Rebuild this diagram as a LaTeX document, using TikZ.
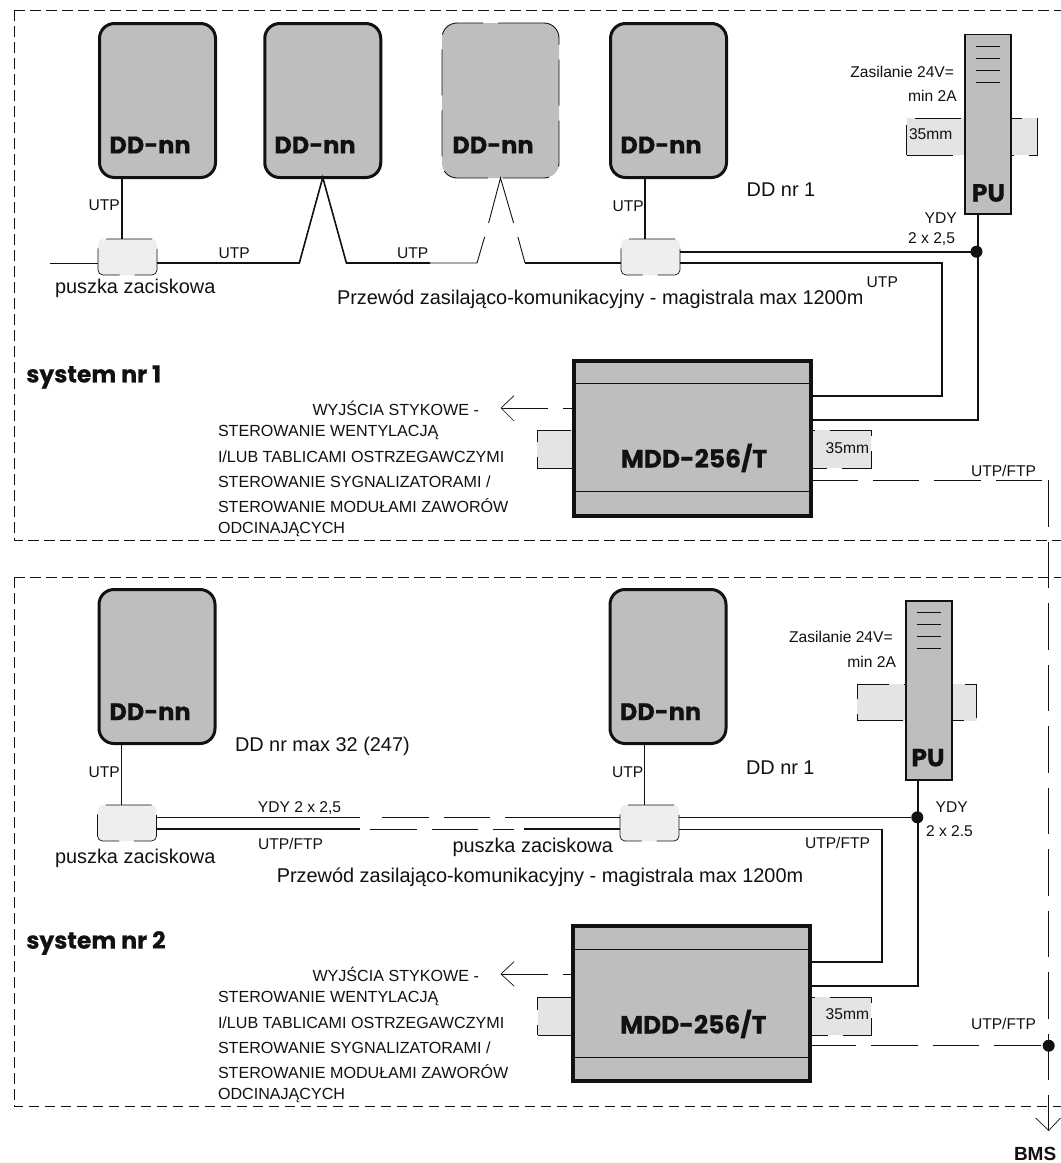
\documentclass[tikz,border=0pt]{standalone}
\usepackage{fontspec}
\setmainfont{Liberation Sans}
\newfontfamily\vag{Poppins}[BoldFeatures={FakeBold=0.5}]
\definecolor{boxgray}{HTML}{BEBEBE}
\definecolor{railgray}{HTML}{E4E4E4}
\definecolor{clampgray}{HTML}{EEEEEE}
\definecolor{ink}{HTML}{111111}
\tikzset{
  every node/.style={inner sep=0pt,outer sep=0pt,text=ink},
  ddbox/.style={draw=ink,fill=boxgray,line width=3pt,rounded corners=15pt,minimum width=116pt,minimum height=154pt},
  ddghost/.style={draw=ink,fill=boxgray,line width=0.9pt,rounded corners=15pt,minimum width=117pt,minimum height=155pt,dash pattern=on 46pt off 15pt},
  pubox/.style={draw=ink,fill=boxgray,line width=1.8pt,minimum width=46pt,minimum height=179.5pt},
  mddbox/.style={draw=ink,fill=boxgray,line width=4pt,minimum width=237pt,minimum height=155pt},
  rail/.style={draw=ink,fill=railgray,line width=0.7pt,dash pattern=on 46pt off 15pt},
  clamp/.style={draw=ink,fill=clampgray,line width=0.7pt,rounded corners=5pt,dash pattern=on 46pt off 15pt,minimum height=36pt},
  dot/.style={circle,fill=ink,minimum size=12pt},
  frame/.style={draw=ink,line width=0.8pt,dash pattern=on 10.5pt off 5.5pt},
  wire/.style={draw=ink,line width=1.6pt},
  thinwire/.style={draw=ink,line width=0.9pt},
  longdash/.style={draw=ink,line width=0.9pt,dash pattern=on 46.5pt off 15pt},
  small/.style={font=\fontsize{15.6}{18}\selectfont},
  big/.style={font=\fontsize{19.9}{22}\selectfont},
  caps/.style={font=\fontsize{16.1}{18}\selectfont},
  ddtext/.style={font=\vag\bfseries\fontsize{24}{26}\selectfont},
  putext/.style={font=\vag\bfseries\fontsize{25}{26}\selectfont},
  mddtext/.style={font=\vag\bfseries\fontsize{25}{28}\selectfont},
  systext/.style={font=\vag\bfseries\fontsize{23.5}{26}\selectfont},
}
\begin{document}
\begin{tikzpicture}[x=1pt,y=-1pt]
\useasboundingbox (0,0) rectangle (1061,1163);
\fill[white] (0,0) rectangle (1061,1163);
% frames
\coordinate (fa1) at (1061,10); \coordinate (fa2) at (14.3,10); \coordinate (fa3) at (14.3,540); \coordinate (fa4) at (1061,540);
\coordinate (fb1) at (1061,577); \coordinate (fb2) at (14.3,577); \coordinate (fb3) at (14.3,1106.5); \coordinate (fb4) at (1061,1106.5);
\draw[frame] (fa2) -- (fa1);
\draw[frame] (fa2) -- (fa3) -- (fa4);
\draw[frame] (fb2) -- (fb1);
\draw[frame] (fb2) -- (fb3) -- (fb4);

% ---------- system 1 ----------
\node[rail,minimum width=130.6pt,minimum height=37pt] (railpa) at (972,136.5) {};
\node[rail,minimum width=333.5pt,minimum height=38pt] (railma) at (704.2,449) {};
\node[ddbox] (dda1) at (157.5,100.5) {};
\node[ddbox] (dda2) at (322.75,100.5) {};
\node[ddghost] (dda3) at (500.5,100.5) {};
\node[ddbox] (dda4) at (668.5,100.5) {};
\node[pubox] (pua) at (988.3,124.3) {};
\node[mddbox] (mdda) at (692.5,438.3) {};
\node[clamp,minimum width=59pt] (cla1) at (127.5,257) {};
\node[clamp,minimum width=59pt] (cla2) at (650.5,257) {};
\node[dot] (dota) at (976.5,251.7) {};

\node[ddtext] (ta1) at (150,145) {DD-nn};
\node[ddtext] (ta2) at (315,145) {DD-nn};
\node[ddtext] (ta3) at (493,145) {DD-nn};
\node[ddtext] (ta4) at (661,145) {DD-nn};
\node[putext] (tpua) at (988.5,193) {PU};
\node[mddtext] (tma) at (694,458) {MDD-256/T};

% PU inner lines, MDD inner lines
\draw[thinwire] (975.7,46) -- (1000.3,46) (975.7,58) -- (1000.3,58) (975.7,70.5) -- (1000.3,70.5) (975.7,82) -- (1000.3,82);
\draw[line width=0.9pt,draw=ink] (mdda.west |- 0,383.3) -- (mdda.east |- 0,383.3);
\draw[line width=0.9pt,draw=ink] (mdda.west |- 0,491.7) -- (mdda.east |- 0,491.7);

% connectors system 1
\draw[wire] ([xshift=-35.7pt]dda1.south) -- ([xshift=-5.7pt]cla1.north);
\coordinate (la0) at (50,263);
\draw[thinwire] (la0) -- (la0 -| cla1.west);
\coordinate (la1) at (299.3,263); \coordinate (la2) at (346.4,263); \coordinate (la3) at (430,263);
\draw[wire] (la1 -| cla1.east) -- (la1) -- (dda2.south) -- (la2) -- (la3);
\coordinate (la4) at (477,263); \coordinate (la5a) at (484.6,237); \coordinate (la5b) at (488.6,223);
\coordinate (la6a) at (513.6,223); \coordinate (la6b) at (517.9,237); \coordinate (la7) at (525,263);
\draw[thinwire] (la3) -- (la4) -- (la5a);
\draw[thinwire] (la5b) -- (dda3.south) -- (la6a);
\draw[thinwire] (la6b) -- (la7);
\draw[wire] (la7) -- (la7 -| cla2.west);
\draw[wire] ([xshift=-23.5pt]dda4.south) -- ([xshift=-5.5pt]cla2.north);
\draw[wire] (dota -| cla2.east) -- (dota);
\coordinate (la8) at (941.7,263); \coordinate (la9) at (941.7,395.7);
\draw[wire] (la8 -| cla2.east) -- (la8) -- (la9) -- (la9 -| mdda.east);
\coordinate (la10) at (977.7,420);
\draw[wire] ([xshift=-10.6pt]pua.south) -- (la10) -- (la10 -| mdda.east);
\coordinate (la11) at (501,408); \coordinate (la12) at (548,408); \coordinate (la13) at (563,408);
\draw[thinwire] (la12) -- (la11);
\coordinate (ah1) at (514,395.7); \coordinate (ah2) at (514,421);
\draw[thinwire,line width=0.7pt] (ah1) -- (la11) -- (ah2);
\draw[thinwire] (la13) -- (la13 -| mdda.west);
\coordinate (la14) at (1042,480.3);
\draw[longdash] (la14 -| mdda.east) -- (la14);
% bus down to BMS
\coordinate (bus0) at (1048.7,480.3); \coordinate (bus1) at (1048.7,1130.5);
\coordinate (bh1) at (1035.7,1118); \coordinate (bh2) at (1060.5,1118);
\node[dot] (dotb) at (1048.7,1045.7) {};
\draw[longdash] (bus0) -- (bus1);
\draw[thinwire,line width=0.7pt] (bh1) -- (bus1) -- (bh2);
\node[font=\bfseries\fontsize{19}{22}\selectfont,anchor=west] (bms) at (1014,1154) {BMS};

% labels system 1
\node[small,anchor=west] (l1) at (88.6,205.7) {UTP};
\node[small,anchor=west] (l2) at (218.6,253) {UTP};
\node[small,anchor=west] (l3) at (397,253) {UTP};
\node[small,anchor=west] (l4) at (612.5,206.5) {UTP};
\node[big,anchor=west] (l5) at (55,288) {puszka zaciskowa};
\node[small,anchor=west] (l6) at (866.7,282) {UTP};
\node[big,anchor=west] (l7) at (337,299) {Przewód zasilająco-komunikacyjny - magistrala max 1200m};
\node[big,anchor=west] (l8) at (746.7,190) {DD nr 1};
\node[small,anchor=east] (l9) at (954,71.7) {Zasilanie 24V=};
\node[small,anchor=east] (l10) at (956.7,95.7) {min 2A};
\node[small,anchor=west] (l11) at (909,134) {35mm};
\node[small,anchor=east] (l12) at (956.7,217.7) {YDY};
\node[small,anchor=east] (l13) at (955,239.3) {2 x 2,5};
\node[small,anchor=west] (l14) at (825.7,447.7) {35mm};
\node[small,anchor=west] (l15) at (971,470.7) {UTP/FTP};
\node[systext,anchor=west] (l16) at (26.3,377) {system nr 1};
\node[caps,anchor=west] (c1) at (312.5,408) {WYJŚCIA STYKOWE -};
\node[caps,anchor=west] (c2) at (218,432.3) {STEROWANIE WENTYLACJĄ};
\node[caps,anchor=west] (c3) at (218,456.7) {I/LUB TABLICAMI OSTRZEGAWCZYMI};
\node[caps,anchor=west] (c4) at (218,481.7) {STEROWANIE SYGNALIZATORAMI /};
\node[caps,anchor=west] (c5) at (218,505.7) {STEROWANIE MODUŁAMI ZAWORÓW};
\node[caps,anchor=west] (c6) at (218,530) {ODCINAJĄCYCH};

% ---------- system 2 ----------
\node[rail,minimum width=119.4pt,minimum height=36.4pt] (railpb) at (917,702.5) {};
\node[rail,minimum width=333.5pt,minimum height=37.7pt] (railmb) at (704.3,1016.2) {};
\node[ddbox] (ddb1) at (157,666.5) {};
\node[ddbox] (ddb2) at (668,666.5) {};
\node[pubox] (pub) at (928.9,690.5) {};
\node[mddbox] (mddb) at (691.3,1003.8) {};
\node[clamp,minimum width=59pt] (clb1) at (127,823) {};
\node[clamp,minimum width=59pt] (clb2) at (649.5,823) {};
\node[dot] (dotc) at (917.3,817.3) {};

\node[ddtext] (tb1) at (150,711.7) {DD-nn};
\node[ddtext] (tb2) at (660.5,711.7) {DD-nn};
\node[putext] (tpub) at (928,757.7) {PU};
\node[mddtext] (tmb) at (693.3,1024) {MDD-256/T};

\draw[thinwire] (916.7,612.3) -- (941,612.3) (916.7,624.3) -- (941,624.3) (916.7,636.3) -- (941,636.3) (916.7,648.3) -- (941,648.3);
\draw[line width=0.9pt,draw=ink] (mddb.west |- 0,949.3) -- (mddb.east |- 0,949.3);
\draw[line width=0.9pt,draw=ink] (mddb.west |- 0,1057.3) -- (mddb.east |- 0,1057.3);

\draw[wire] ([xshift=-35.6pt]ddb1.south) -- ([xshift=-5.6pt]clb1.north);
\draw[wire] ([xshift=-5.2pt]clb2.north) -- ([xshift=-23.7pt]ddb2.south);
\coordinate (lb1) at (359.6,817.3); \coordinate (lb2) at (359.6,829);
\coordinate (lb3) at (524,817.3); \coordinate (lb4) at (524,829);
\draw[wire] (lb1 -| clb1.east) -- (lb1);
\draw[wire] (lb2 -| clb1.east) -- (lb2);
\draw[wire] (lb3) -- (lb3 -| clb2.west);
\draw[wire] (lb4) -- (lb4 -| clb2.west);
\coordinate (lb5) at (382,817.3); \coordinate (lb6) at (370,829); \coordinate (lb7) at (514,829);
\draw[longdash] (lb5) -- (lb3);
\draw[longdash] (lb6) -- (lb7);
\draw[wire] (dotc -| clb2.east) -- (dotc);
\coordinate (lb8) at (882,829.3); \coordinate (lb9) at (882,961.7);
\draw[wire] (lb8 -| clb2.east) -- (lb8) -- (lb9) -- (lb9 -| mddb.east);
\coordinate (lb10) at (917.7,986);
\draw[wire] ([xshift=-11.2pt]pub.south) -- (lb10) -- (lb10 -| mddb.east);
\coordinate (lb11) at (501,974); \coordinate (lb12) at (548,974); \coordinate (lb13) at (563,974);
\draw[thinwire] (lb12) -- (lb11);
\coordinate (ai1) at (514,961.7); \coordinate (ai2) at (514,986);
\draw[thinwire,line width=0.7pt] (ai1) -- (lb11) -- (ai2);
\draw[thinwire] (lb13) -- (lb13 -| mddb.west);
\draw[longdash] (dotb -| mddb.east) -- (dotb);

\node[small,anchor=west] (m1) at (88.6,771.7) {UTP};
\node[small,anchor=west] (m2) at (612,771.7) {UTP};
\node[small,anchor=west] (m3) at (257.9,807.7) {YDY 2 x 2,5};
\node[small,anchor=west] (m4) at (258,844) {UTP/FTP};
\node[big,anchor=west] (m5) at (55,858.3) {puszka zaciskowa};
\node[big,anchor=west] (m6) at (452.5,847.7) {puszka zaciskowa};
\node[big,anchor=west] (m7) at (276.8,877.3) {Przewód zasilająco-komunikacyjny - magistrala max 1200m};
\node[big,anchor=west] (m8) at (235,746.7) {DD nr max 32 (247)};
\node[big,anchor=west] (m9) at (746,767.7) {DD nr 1};
\node[small,anchor=east] (m10) at (892.7,637.3) {Zasilanie 24V=};
\node[small,anchor=east] (m11) at (896,661.7) {min 2A};
\node[small,anchor=west] (m12) at (935.7,807.3) {YDY};
\node[small,anchor=west] (m13) at (926,830.7) {2 x 2.5};
\node[small,anchor=west] (m14) at (805,843.3) {UTP/FTP};
\node[small,anchor=west] (m15) at (825.7,1014) {35mm};
\node[small,anchor=west] (m16) at (971,1024) {UTP/FTP};
\node[systext,anchor=west] (m17) at (26.3,943) {system nr 2};
\node[caps,anchor=west] (d1) at (312.5,974) {WYJŚCIA STYKOWE -};
\node[caps,anchor=west] (d2) at (218,998.3) {STEROWANIE WENTYLACJĄ};
\node[caps,anchor=west] (d3) at (218,1022.7) {I/LUB TABLICAMI OSTRZEGAWCZYMI};
\node[caps,anchor=west] (d4) at (218,1047.7) {STEROWANIE SYGNALIZATORAMI /};
\node[caps,anchor=west] (d5) at (218,1071.7) {STEROWANIE MODUŁAMI ZAWORÓW};
\node[caps,anchor=west] (d6) at (218,1096) {ODCINAJĄCYCH};
\end{tikzpicture}
\end{document}
